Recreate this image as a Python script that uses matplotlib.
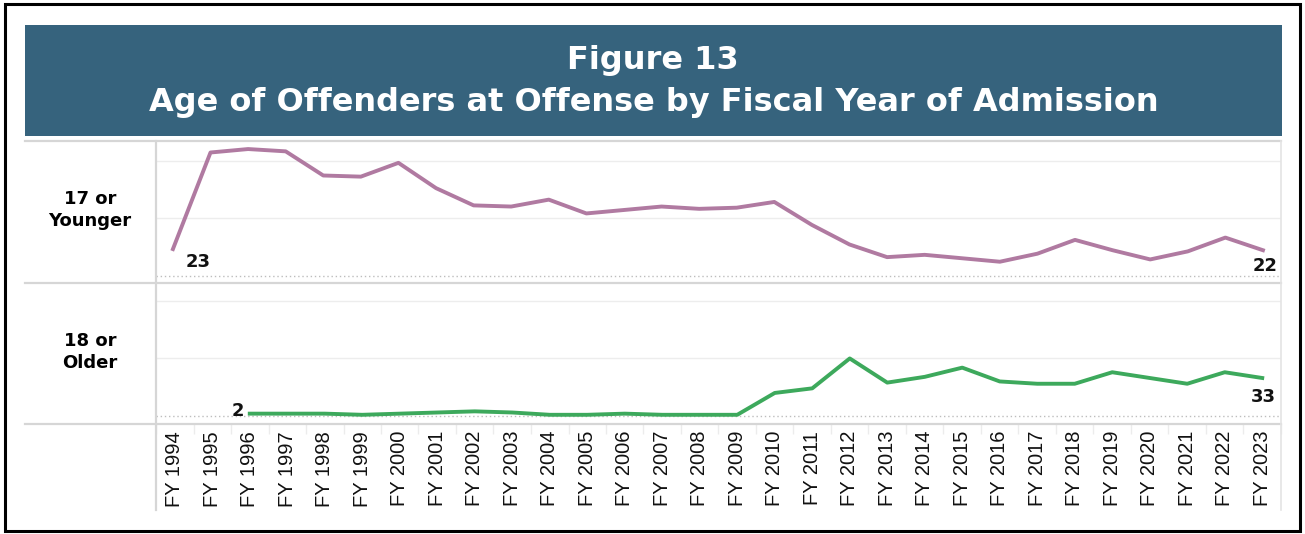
import numpy as np
import matplotlib.pyplot as plt
from matplotlib.lines import Line2D
from matplotlib.patches import Rectangle

# data
years = ['FY %d' % y for y in range(1994, 2024)]
younger = [23, 107, 110, 108, 87, 86, 98, 76, 61, 60, 66, 54, 57, 60, 58, 59,
           64, 44, 27, 16, 18, 15, 12, 19, 31, 22, 14, 21, 33, 22]
older = [np.nan, np.nan, 2, 2, 2, 1, 2, 3, 4, 3, 1, 1, 2, 1, 1, 1,
         20, 24, 50, 29, 34, 42, 30, 28, 28, 38, 33, 28, 38, 33]
row_labels = ['17 or\nYounger', '18 or\nOlder']
title_lines = ['Figure 13', 'Age of Offenders at Offense by Fiscal Year of Admission']

W, H = 1305, 534
purple = '#B07AA1'
green = '#3DA95C'
banner = '#36637D'
grid_c = '#EDEDED'
frame_c = '#D6D6D6'

def fx(x):
    return x / W

def fy(y):
    return 1 - y / H

fig = plt.figure(figsize=(W / 100, H / 100), dpi=100)

# outer frame and title banner
fig.add_artist(Rectangle((fx(5), fy(531)), 1295 / W, 527 / H, fill=False,
                         ec='black', lw=2.2, transform=fig.transFigure))
fig.add_artist(Rectangle((fx(25), fy(136)), 1257 / W, 111 / H, fc=banner,
                         ec='none', transform=fig.transFigure))
fig.text(fx(653), fy(60), title_lines[0], color='white', fontsize=23,
         fontweight='bold', ha='center', va='center')
fig.text(fx(654), fy(103), title_lines[1], color='white', fontsize=23,
         fontweight='bold', ha='center', va='center')

x = np.arange(len(years))
ax1 = fig.add_axes([fx(156), fy(283), 1125 / W, 142 / H])
ax2 = fig.add_axes([fx(156), fy(424), 1125 / W, 141 / H])

for ax, vals, col, lo, hi in [(ax1, younger, purple, -6.5, 117),
                              (ax2, older, green, -7, 115.6)]:
    for g in [50, 100]:
        ax.axhline(g, color=grid_c, lw=1, zorder=0)
    ax.axhline(0, color='#BDBDBD', lw=1, ls=(0, (1, 2)), zorder=1)
    ax.plot(x, vals, color=col, lw=2.8, solid_joinstyle='round', zorder=3)
    ax.set_xlim(-0.45, 29.48)
    ax.set_ylim(lo, hi)
    for s in ax.spines.values():
        s.set_visible(False)
    ax.set_yticks([])

ax1.set_xticks([])
ax2.set_xticks(x)
ax2.set_xticklabels(years, rotation=90, fontsize=14.5, family='Liberation Sans',
                    va='top', color='#111111')
ax2.tick_params(axis='x', length=0, pad=5)
ax2.set_xticks(np.arange(-0.5, 30, 1), minor=True)
ax2.tick_params(axis='x', which='minor', length=7, color='#ECECEC', width=1)

# value labels at the ends
lab = dict(fontsize=13, fontweight='bold', ha='center', va='center',
           textcoords='offset pixels', color='#111111')
ax1.annotate(str(younger[0]), (0, younger[0]), xytext=(25, -13), **lab)
ax1.annotate(str(younger[-1]), (29, younger[-1]), xytext=(2, -16), **lab)
ax2.annotate(str(older[2]), (2, older[2]), xytext=(-12, 3), **lab)
ax2.annotate(str(older[-1]), (29, older[-1]), xytext=(1, -19), **lab)

# row labels
fig.text(fx(90), fy(210), row_labels[0], fontsize=13, fontweight='bold',
         ha='center', va='center', linespacing=1.25)
fig.text(fx(90), fy(352), row_labels[1], fontsize=13, fontweight='bold',
         ha='center', va='center', linespacing=1.25)

# table lines
for yy in [141, 283, 424]:
    fig.add_artist(Line2D([fx(25), fx(1281)], [fy(yy), fy(yy)], color=frame_c,
                          lw=1.6, transform=fig.transFigure))
fig.add_artist(Line2D([fx(156), fx(156)], [fy(141), fy(510)], color=frame_c,
                      lw=1.6, transform=fig.transFigure))
fig.add_artist(Line2D([fx(1281), fx(1281)], [fy(141), fy(510)], color='#E4E4E4',
                      lw=1.2, transform=fig.transFigure))

fig.savefig('out.png', dpi=100)
